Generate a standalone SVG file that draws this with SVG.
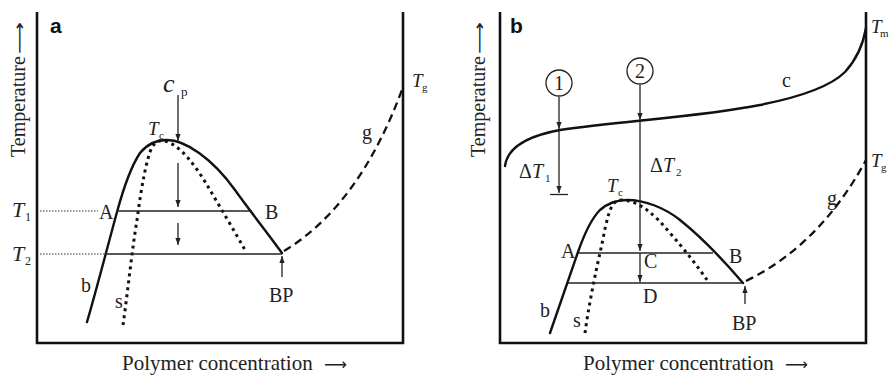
<svg xmlns="http://www.w3.org/2000/svg" width="889" height="376" viewBox="0 0 889 376" font-family="Liberation Serif, Tinos, DejaVu Serif, serif">
<defs>
<style>
.ax{fill:none;stroke:#111;stroke-width:2.6;stroke-linejoin:miter}
.bin{fill:none;stroke:#111;stroke-width:2.4;stroke-linecap:round}
.sp{fill:none;stroke:#111;stroke-width:3;stroke-dasharray:3,4;stroke-linecap:butt}
.gl{fill:none;stroke:#111;stroke-width:2.3;stroke-dasharray:8,5}
.th{fill:none;stroke:#222;stroke-width:1.3}
.dt{fill:none;stroke:#333;stroke-width:1.2;stroke-dasharray:1.5,1.5}
.ar{fill:none;stroke:#222;stroke-width:1.3;marker-end:url(#ah)}
.tx{font-family:'Liberation Serif',Tinos,'DejaVu Serif',serif;fill:#222}
.lb{font-size:20px}
.it{font-style:italic;font-size:21px}
.sub{font-size:11px}
.pn{font-family:'Liberation Sans',Arimo,Arial,sans-serif;font-weight:bold;font-size:21px;fill:#111}
.axl{font-size:21px}
.arr{font-family:'DejaVu Sans',sans-serif;font-size:16px}
</style>
<marker id="ah" markerUnits="userSpaceOnUse" markerWidth="8" markerHeight="6" refX="7" refY="3" orient="auto">
<path d="M0,0.4 L7,3 L0,5.6 z" fill="#222"/>
</marker>
</defs>

<g id="panel-a">
<g id="axes-a">
<path class="ax" d="M37,12 V343 H403 V12"/>
<text class="pn" x="50" y="33">a</text>
<text class="tx" style="font-size:20px" transform="translate(25,157) rotate(-90)">Temperature<tspan class="arr" x="103" textLength="32" lengthAdjust="spacingAndGlyphs">⟶</tspan></text>
<text class="tx axl" x="122" y="370">Polymer concentration<tspan class="arr" x="324" textLength="23" lengthAdjust="spacingAndGlyphs">⟶</tspan></text>
</g>
<g id="curves-a">
<path id="binodal-a" class="bin" d="M87,322 C95,295 108,245 117,212 C123,190 130,168 140,153 C148,143 157,140 167,140 C185,140 212,158 235,190 C250,211 266,231 282,253"/>
<path id="spinodal-a" class="sp" d="M123,325 C128,290 132,250 137,220 C141,190 146,160 152,147 C156,141 160,140 165,141 C180,145 195,165 207,185 C220,207 235,232 245,250"/>
<path id="glass-a" class="gl" d="M284,251 Q360,205 403,87"/>
</g>
<g id="connectors-a">
<path class="dt" d="M40,211 H98"/>
<path class="th" d="M117,211 H252"/>
<path class="dt" d="M40,254 H105"/>
<path class="th" d="M105,254 H282"/>
<path class="ar" d="M178,95 V141"/>
<path class="ar" d="M178,163 V207"/>
<path class="ar" d="M178,223 V245"/>
<path class="ar" d="M282,277 V256"/>
</g>
<g id="labels-a">
<text class="tx" x="163" y="92" style="font-style:italic;font-size:26px">c</text>
<text class="tx sub" x="181" y="96" style="font-size:13px">p</text>
<text class="tx it" x="148" y="135" style="font-size:19px">T</text>
<text class="tx sub" x="159" y="139">c</text>
<text class="tx it" x="12" y="217" style="font-size:22px">T</text>
<text class="tx sub" x="25" y="221" style="font-size:12px">1</text>
<text class="tx it" x="12" y="261" style="font-size:22px">T</text>
<text class="tx sub" x="25" y="265" style="font-size:12px">2</text>
<text class="tx lb" x="99" y="219">A</text>
<text class="tx lb" x="265" y="219">B</text>
<text class="tx lb" x="81" y="292">b</text>
<text class="tx lb" x="115" y="308">s</text>
<text class="tx lb" x="269" y="302">BP</text>
<text class="tx lb" x="362" y="139">g</text>
<text class="tx it" x="412" y="87" style="font-size:19px">T</text>
<text class="tx sub" x="422" y="91">g</text>
</g>
</g>

<g id="panel-b">
<g id="axes-b">
<path class="ax" d="M500,12 V343 H866 V12"/>
<text class="pn" x="510" y="33">b</text>
<text class="tx" style="font-size:20px" transform="translate(485,157) rotate(-90)">Temperature<tspan class="arr" x="103" textLength="32" lengthAdjust="spacingAndGlyphs">⟶</tspan></text>
<text class="tx axl" x="583" y="370">Polymer concentration<tspan class="arr" x="785" textLength="23" lengthAdjust="spacingAndGlyphs">⟶</tspan></text>
</g>
<g id="curves-b">
<path id="crystal-b" class="bin" d="M505,166 C507,150 522,137 560,130 C620,121 700,117 760,105 C800,97 830,87 845,72 C856,60 863,45 866,28"/>
<path id="binodal-b" class="bin" d="M550,333 C556,315 565,290 578,252 C585,232 592,218 600,210 C608,203 616,200 627,200 C645,200 665,208 680,220 C700,236 725,262 743,283"/>
<path id="spinodal-b" class="sp" d="M585,333 C588,310 595,275 600,253 C604,235 607,215 612,206 C615,201 618,200 622,200 C640,201 655,215 670,233 C685,250 698,267 707,280"/>
<path id="glass-b" class="gl" d="M746,281 Q820,245 866,160"/>
</g>
<g id="connectors-b">
<circle class="th" cx="559" cy="83" r="13"/>
<circle class="th" cx="640" cy="71" r="13"/>
<path class="ar" d="M559,97 V129"/>
<path class="ar" d="M559,130 V193"/>
<path class="th" d="M550,194.5 H568"/>
<path class="ar" d="M640,85 V120"/>
<path class="ar" d="M640,121 V251"/>
<path class="ar" d="M640,253 V282"/>
<path class="th" d="M578,253 H713"/>
<path class="th" d="M568,283 H743"/>
<path class="ar" d="M745,304 V286"/>
</g>
<g id="labels-b">
<text class="tx lb" x="559" y="90" text-anchor="middle">1</text>
<text class="tx lb" x="640" y="78" text-anchor="middle">2</text>
<text class="tx lb" x="519" y="178">Δ<tspan style="font-style:italic">T</tspan></text>
<text class="tx sub" x="545" y="182">1</text>
<text class="tx lb" x="650" y="172">Δ<tspan style="font-style:italic">T</tspan></text>
<text class="tx sub" x="676" y="176">2</text>
<text class="tx it" x="607" y="192" style="font-size:19px">T</text>
<text class="tx sub" x="618" y="196">c</text>
<text class="tx lb" x="561" y="258">A</text>
<text class="tx lb" x="729" y="263">B</text>
<text class="tx lb" x="644" y="268">C</text>
<text class="tx lb" x="643" y="303">D</text>
<text class="tx lb" x="540" y="317">b</text>
<text class="tx lb" x="573" y="327">s</text>
<text class="tx lb" x="732" y="330">BP</text>
<text class="tx lb" x="782" y="87">c</text>
<text class="tx lb" x="827" y="205">g</text>
<text class="tx it" x="871" y="33" style="font-size:19px">T</text>
<text class="tx sub" x="880" y="37">m</text>
<text class="tx it" x="871" y="167" style="font-size:19px">T</text>
<text class="tx sub" x="881" y="171">g</text>
</g>
</g>
</svg>
